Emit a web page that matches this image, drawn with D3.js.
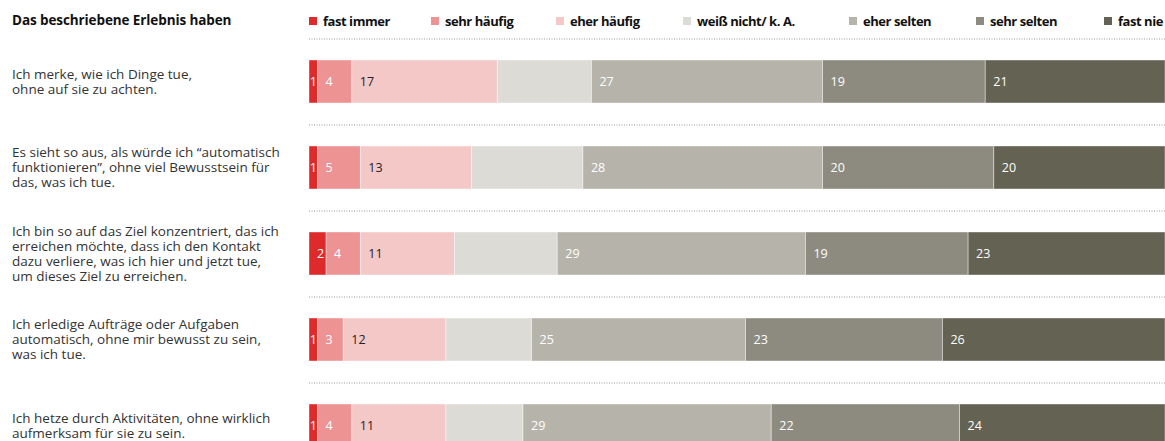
<!DOCTYPE html>
<html>
<head>
<meta charset="utf-8">
<script src="https://cdn.jsdelivr.net/npm/d3@7"></script>
<style>
  body { margin: 0; background: #fff; }
  svg { display: block; font-family: "Open Sans", sans-serif; }
</style>
</head>
<body>
<div id="canvas"></div>
<script>
// answer categories (legend order)
const categories = ["fast immer", "sehr häufig", "eher häufig", "weiß nicht/ k. A.", "eher selten", "sehr selten", "fast nie"];
const colors = ["#df2a2c", "#ed9394", "#f5c8c8", "#dcdbd6", "#b6b3ab", "#8d8b7f", "#646253"];

// statements, split into lines as in the original
const statements = [
  ["Ich merke, wie ich Dinge tue,", "ohne auf sie zu achten."],
  ["Es sieht so aus, als würde ich “automatisch", "funktionieren”, ohne viel Bewusstsein für", "das, was ich tue."],
  ["Ich bin so auf das Ziel konzentriert, das ich", "erreichen möchte, dass ich den Kontakt", "dazu verliere, was ich hier und jetzt tue,", "um dieses Ziel zu erreichen."],
  ["Ich erledige Aufträge oder Aufgaben", "automatisch, ohne mir bewusst zu sein,", "was ich tue."],
  ["Ich hetze durch Aktivitäten, ohne wirklich", "aufmerksam für sie zu sein."]
];

// percent per statement, one array per category
const fastImmer   = [1, 1, 2, 1, 1];
const sehrHaeufig = [4, 5, 4, 3, 4];
const eherHaeufig = [17, 13, 11, 12, 11];
const weissNicht  = [11, 13, 12, 10, 9];
const eherSelten  = [27, 28, 29, 25, 29];
const sehrSelten  = [19, 20, 19, 23, 22];
const fastNie     = [21, 20, 23, 26, 24];

const series = [fastImmer, sehrHaeufig, eherHaeufig, weissNicht, eherSelten, sehrSelten, fastNie];
const showLabel = [true, true, true, false, true, true, true];
const darkLabel = [false, false, true, false, false, false, false];

const width = 1165, height = 441;

const svg = d3.select("#canvas").append("svg")
  .attr("width", width)
  .attr("height", height);

const x = d3.scaleLinear().domain([0, 100]).range([309, 1165]);
const y = d3.scaleBand()
  .domain(d3.range(statements.length))
  .range([38.5, 38.5 + 86 * statements.length])
  .paddingInner(0.5)
  .paddingOuter(0.25);

const color = d3.scaleOrdinal().domain(categories).range(colors);

// build stacked table
const table = statements.map((s, i) => {
  const row = { idx: i };
  categories.forEach((c, k) => { row[c] = series[k][i]; });
  return row;
});
const stacked = d3.stack().keys(categories)(table);

// header
svg.append("text")
  .attr("x", 12).attr("y", 25)
  .attr("font-size", 13.5).attr("font-weight", 700)
  .attr("fill", "#111")
  .attr("letter-spacing", -0.1)
  .text("Das beschriebene Erlebnis haben");

// legend
const legendX = [309, 431, 556, 683, 849, 976, 1104];
const legend = svg.append("g").selectAll("g")
  .data(categories)
  .enter().append("g")
  .attr("transform", (d, i) => `translate(${legendX[i]},0)`);
legend.append("rect")
  .attr("x", 0).attr("y", 17).attr("width", 8).attr("height", 8)
  .attr("fill", d => color(d));
legend.append("text")
  .attr("x", 14).attr("y", 26)
  .attr("font-size", 13).attr("font-weight", 700)
  .attr("letter-spacing", -0.45)
  .attr("fill", "#111")
  .text(d => d);

// dotted separators
svg.append("g").selectAll("line")
  .data(d3.range(statements.length))
  .enter().append("line")
  .attr("x1", x(0)).attr("x2", x(100))
  .attr("y1", i => y(i) - y.step() * 0.25 + 0.5)
  .attr("y2", i => y(i) - y.step() * 0.25 + 0.5)
  .attr("stroke", "#999")
  .attr("stroke-width", 1)
  .attr("stroke-dasharray", "1,1.5");

// statements text
const lineH = 15;
const labels = svg.append("g").selectAll("text")
  .data(statements)
  .enter().append("text")
  .attr("font-size", 13.5)
  .attr("fill", "#333");
labels.each(function (lines, i) {
  const cy = y(i) + y.bandwidth() / 2;
  const top = cy - (lines.length - 1) * lineH / 2;
  d3.select(this).selectAll("tspan")
    .data(lines)
    .enter().append("tspan")
    .attr("x", 12)
    .attr("y", (d, j) => top + j * lineH + 4.5)
    .text(d => d);
});

// bars
const layers = svg.append("g").selectAll("g")
  .data(stacked)
  .enter().append("g")
  .attr("fill", d => color(d.key));

layers.selectAll("rect")
  .data(d => d)
  .enter().append("rect")
  .attr("x", d => x(d[0]))
  .attr("y", d => y(d.data.idx))
  .attr("width", d => x(d[1]) - x(d[0]))
  .attr("height", y.bandwidth())
  .attr("stroke", "#fff")
  .attr("stroke-opacity", 0.5)
  .attr("stroke-width", 0.8);

// value labels
stacked.forEach((layer, k) => {
  if (!showLabel[k]) return;
  svg.append("g").selectAll("text")
    .data(layer)
    .enter().append("text")
    .attr("x", d => {
      const w = x(d[1]) - x(d[0]);
      return w < 14 ? (x(d[0]) + x(d[1])) / 2 : x(d[0]) + 8;
    })
    .attr("text-anchor", d => (x(d[1]) - x(d[0]) < 14 ? "middle" : "start"))
    .attr("y", d => y(d.data.idx) + y.bandwidth() / 2 + 4.5)
    .attr("font-size", 12.5)
    .attr("fill", darkLabel[k] ? "#222" : "#fff")
    .text(d => d.data[layer.key]);
});
</script>
</body>
</html>
